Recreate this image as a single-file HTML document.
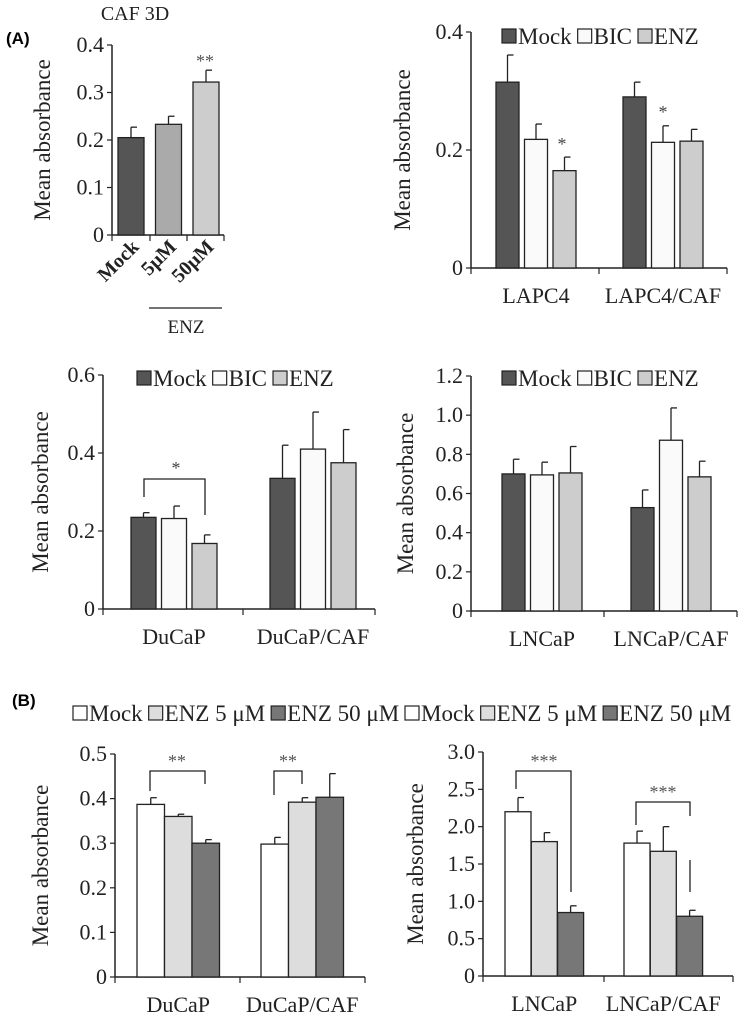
<!DOCTYPE html>
<html><head><meta charset="utf-8"><style>
body{margin:0;background:#fff;}
svg, svg text{font-family:"Liberation Serif","DejaVu Serif",serif;}
svg text.plabel{font-family:"Liberation Sans",sans-serif;font-weight:bold;}
</style></head><body>
<svg id="fig" width="745" height="1024" viewBox="0 0 745 1024"></svg>
<script>
// ---- data ----
const cafCats = ["Mock","5μM","50μM"];
const cafVals = [0.205,0.233,0.322];
const cafErr = [0.022,0.017,0.025];

const lapcGroups = ["LAPC4","LAPC4/CAF"];
const lapcMock = [0.315,0.290];
const lapcBic = [0.218,0.213];
const lapcEnz = [0.165,0.215];
const lapcMockErr = [0.046,0.025];
const lapcBicErr = [0.026,0.028];
const lapcEnzErr = [0.023,0.020];
const lapcTicks = [0,0.2,0.4];

const ducGroups = ["DuCaP","DuCaP/CAF"];
const ducMock = [0.235,0.335];
const ducBic = [0.232,0.410];
const ducEnz = [0.168,0.375];
const ducMockErr = [0.012,0.085];
const ducBicErr = [0.032,0.095];
const ducEnzErr = [0.022,0.085];
const ducTicks = [0,0.2,0.4,0.6];

const lnGroups = ["LNCaP","LNCaP/CAF"];
const lnMock = [0.70,0.528];
const lnBic = [0.695,0.872];
const lnEnz = [0.705,0.685];
const lnMockErr = [0.075,0.09];
const lnBicErr = [0.065,0.165];
const lnEnzErr = [0.135,0.08];
const lnTicks = [0,0.2,0.4,0.6,0.8,1.0,1.2];

const bdGroups = ["DuCaP","DuCaP/CAF"];
const bdMock = [0.387,0.298];
const bdE5 = [0.360,0.392];
const bdE50 = [0.300,0.403];
const bdMockErr = [0.015,0.015];
const bdE5Err = [0.005,0.010];
const bdE50Err = [0.008,0.053];
const bdTicks = [0,0.1,0.2,0.3,0.4,0.5];

const blGroups = ["LNCaP","LNCaP/CAF"];
const blMock = [2.20,1.78];
const blE5 = [1.80,1.67];
const blE50 = [0.85,0.80];
const blMockErr = [0.19,0.16];
const blE5Err = [0.12,0.33];
const blE50Err = [0.09,0.08];
const blTicks = [0,0.5,1.0,1.5,2.0,2.5,3.0];

const svg = document.getElementById('fig');
const NS = "http://www.w3.org/2000/svg";
const SERIF = "Liberation Serif, DejaVu Serif, serif";
function el(tag, attrs, parent){
  const e = document.createElementNS(NS, tag);
  for (const k in attrs) e.setAttribute(k, attrs[k]);
  (parent||svg).appendChild(e);
  return e;
}
function txt(x,y,s,size,anchor,parent,extra){
  const t = el('text',Object.assign({x:x,y:y,'font-size':size,'text-anchor':anchor||'middle',fill:'#222','font-family':SERIF},extra||{}),parent);
  t.textContent = s;
  return t;
}

function drawChart(cfg){
  const g = el('g',{});
  
  
  const yScale = v => cfg.y0 - (v / cfg.ymax) * (cfg.y0 - cfg.yTop);
  const ax = el('line',{x1:cfg.ax,y1:yScale(cfg.ymax),x2:cfg.ax,y2:cfg.y0,stroke:'#222','stroke-width':1.5},g);
  
  
  cfg.ticks.forEach(t=>{
    const y = yScale(t);
    el('line',{x1:cfg.ax-5,y1:y,x2:cfg.ax,y2:y,stroke:'#222','stroke-width':1.2},g);
    const lab = txt(cfg.ax-8,y+7,cfg.fmt(t),22,'end',g);
    
    
  });
  const xa = el('line',{x1:cfg.ax,y1:cfg.y0,x2:cfg.axEnd,y2:cfg.y0,stroke:'#222','stroke-width':1.5},g);
  
  
  cfg.xTicks.forEach(x=>el('line',{x1:x,y1:cfg.y0,x2:x,y2:cfg.y0+6,stroke:'#222','stroke-width':1.2},g));
  const yt = txt(0,0,'Mean absorbance',23,'middle',g,{transform:`translate(${cfg.ytX},${(yScale(cfg.ymax)+cfg.y0)/2}) rotate(-90)`});
  
  
  cfg.series.forEach((s,si)=>{
    s.vals.forEach((v,gi)=>{
      const x = cfg.groupX[gi] + si*cfg.step;
      const yTop = yScale(v);
      const yErr = yScale(v + s.err[gi]);
      const cx = x + cfg.bw/2;
      el('line',{x1:cx,y1:yTop,x2:cx,y2:yErr,stroke:'#222','stroke-width':1.3},g);
      el('line',{x1:cx,y1:yErr,x2:cx+6,y2:yErr,stroke:'#222','stroke-width':1.3},g);
      const r = el('rect',{x:x,y:yTop,width:cfg.bw,height:cfg.y0-yTop,fill:s.color,stroke:'#222','stroke-width':1.3},g);
      
      
    });
  });
  cfg.groups.forEach((lab,gi)=>{
    const t = txt(cfg.groupX[gi]+cfg.step+cfg.bw/2,cfg.y0+35,lab,22,'middle',g);
    
    
  });
  let x = cfg.legend.x;
  cfg.series.forEach(s=>{
    const r = el('rect',{x:x,y:cfg.legend.y-15,width:14,height:14,fill:s.color,stroke:'#222','stroke-width':1.2},g);
    
    
    const t = txt(x+16,cfg.legend.y,s.label,23,'start',g);
    
    
    x += 16 + t.getComputedTextLength() + 6;
  });
  return {g, yScale};
}
function bracket(g,d){ el('path',{d:d,fill:'none',stroke:'#222','stroke-width':1.3},g); }

const f1 = v=>v===0?'0':v.toFixed(1);
const dark='#555', mid='#aaa', light='#cdcdcd', white='#fafafa';

// Panel A1: CAF 3D
(function(){
  const g = el('g',{});
  
  
  const y0=235, yTop=45, ymax=0.4, ax=112;
  const ys = v => y0 - v/ymax*(y0-yTop);
  el('line',{x1:ax,y1:yTop,x2:ax,y2:y0,stroke:'#222','stroke-width':1.5},g);
  [0,0.1,0.2,0.3,0.4].forEach(t=>{
    el('line',{x1:ax-5,y1:ys(t),x2:ax,y2:ys(t),stroke:'#222','stroke-width':1.2},g);
    const l = txt(ax-8,ys(t)+7,f1(t),22,'end',g);
    
    
  });
  el('line',{x1:ax,y1:y0,x2:224,y2:y0,stroke:'#222','stroke-width':1.5},g);
  [112,150,187,224].forEach(x=>el('line',{x1:x,y1:y0,x2:x,y2:y0+6,stroke:'#222','stroke-width':1.2},g));
  const yt = txt(0,0,'Mean absorbance',23,'middle',g,{transform:`translate(50,140) rotate(-90)`});
  
  
  cafVals.forEach((v,i)=>{
    const x = 118 + i*37.5;
    const yT = ys(v), yE = ys(v+cafErr[i]);
    el('line',{x1:x+13,y1:yT,x2:x+13,y2:yE,stroke:'#222','stroke-width':1.3},g);
    el('line',{x1:x+13,y1:yE,x2:x+19,y2:yE,stroke:'#222','stroke-width':1.3},g);
    const r = el('rect',{x:x,y:yT,width:26,height:y0-yT,fill:[dark,mid,light][i],stroke:'#222','stroke-width':1.3},g);
    
    
    const t = txt(0,0,cafCats[i],20,'end',g,{'font-weight':'bold',transform:`translate(${x+22},${248}) rotate(-45)`});
    
    
  });
  txt(205,67,'**',18,'middle',g,{fill:'#555'});
  el('line',{x1:149,y1:308,x2:222,y2:308,stroke:'#222','stroke-width':1.3},g);
  txt(186,333,'ENZ',19,'middle',g);
  const tt = txt(135,20,'CAF 3D',20,'middle',g);
  
  
})();

// Panel A2: LAPC4
const a2 = drawChart({name:'lapc4-chart',ax:471,axEnd:727,y0:268,yTop:32,ymax:0.4,ticks:lapcTicks,fmt:f1,
  xTicks:[471,599,727],ytX:410,groupX:[496,623],bw:23,step:28.5,groups:lapcGroups,legend:{x:502,y:44},
  series:[{key:'mock',label:'Mock',color:dark,vals:lapcMock,err:lapcMockErr},
          {key:'bic',label:'BIC',color:white,vals:lapcBic,err:lapcBicErr},
          {key:'enz',label:'ENZ',color:light,vals:lapcEnz,err:lapcEnzErr}]});
txt(562,150,'*',18,'middle',a2.g,{fill:'#444'});
txt(663,118,'*',18,'middle',a2.g,{fill:'#444'});

// Panel A3: DuCaP
const a3 = drawChart({name:'ducap-chart',ax:103,axEnd:375,y0:609,yTop:375,ymax:0.6,ticks:ducTicks,fmt:f1,
  xTicks:[103,243,375],ytX:48,groupX:[131,270],bw:25,step:30.5,groups:ducGroups,legend:{x:137,y:386},
  series:[{key:'mock',label:'Mock',color:dark,vals:ducMock,err:ducMockErr},
          {key:'bic',label:'BIC',color:white,vals:ducBic,err:ducBicErr},
          {key:'enz',label:'ENZ',color:light,vals:ducEnz,err:ducEnzErr}]});
bracket(a3.g,'M144 497 V479 H205 V515');
txt(176,474,'*',18,'middle',a3.g,{fill:'#444'});

// Panel A4: LNCaP
drawChart({name:'lncap-chart',ax:471,axEnd:737,y0:611,yTop:376,ymax:1.2,ticks:lnTicks,fmt:f1,
  xTicks:[471,604,737],ytX:413,groupX:[502,631],bw:23,step:28.5,groups:lnGroups,legend:{x:502,y:386},
  series:[{key:'mock',label:'Mock',color:dark,vals:lnMock,err:lnMockErr},
          {key:'bic',label:'BIC',color:white,vals:lnBic,err:lnBicErr},
          {key:'enz',label:'ENZ',color:light,vals:lnEnz,err:lnEnzErr}]});

// Panel B1
const b1 = drawChart({name:'b-ducap-chart',ax:115,axEnd:365,y0:977,yTop:754,ymax:0.5,ticks:bdTicks,fmt:f1,
  xTicks:[115,240,365],ytX:48,groupX:[137,261],bw:27.5,step:27.5,groups:bdGroups,legend:{x:73,y:721},
  series:[{key:'mock',label:'Mock',color:'#fff',vals:bdMock,err:bdMockErr},
          {key:'enz5',label:'ENZ 5 μM',color:'#ddd',vals:bdE5,err:bdE5Err},
          {key:'enz50',label:'ENZ 50 μM',color:'#777',vals:bdE50,err:bdE50Err}]});
bracket(b1.g,'M150 791 V771 H205 V784');
bracket(b1.g,'M274 795 V771 H302 V784');
txt(177,767,'**',18,'middle',b1.g,{fill:'#555'});
txt(288,767,'**',18,'middle',b1.g,{fill:'#555'});

// Panel B2
const b2 = drawChart({name:'b-lncap-chart',ax:483,axEnd:733,y0:976,yTop:752,ymax:3.0,ticks:blTicks,fmt:f1,
  xTicks:[483,604,733],ytX:423,groupX:[505,624],bw:26,step:26.3,groups:blGroups,legend:{x:405,y:721},
  series:[{key:'mock',label:'Mock',color:'#fff',vals:blMock,err:blMockErr},
          {key:'enz5',label:'ENZ 5 μM',color:'#ddd',vals:blE5,err:blE5Err},
          {key:'enz50',label:'ENZ 50 μM',color:'#777',vals:blE50,err:blE50Err}]});
bracket(b2.g,'M516 789 V771 H571 V892');
bracket(b2.g,'M636 825 V802 H690 V816 M690 860 V892');
txt(544,767,'***',18,'middle',b2.g,{fill:'#555'});
txt(663,798,'***',18,'middle',b2.g,{fill:'#555'});

// panel letters
const pa = txt(6,44,'(A)',17,'start',null,{'class':'plabel',fill:'#000',style:'font-family:"Liberation Sans",sans-serif;font-weight:bold'});


const pb = txt(12,706,'(B)',17,'start',null,{'class':'plabel',fill:'#000',style:'font-family:"Liberation Sans",sans-serif;font-weight:bold'});


</script>
</body></html>
